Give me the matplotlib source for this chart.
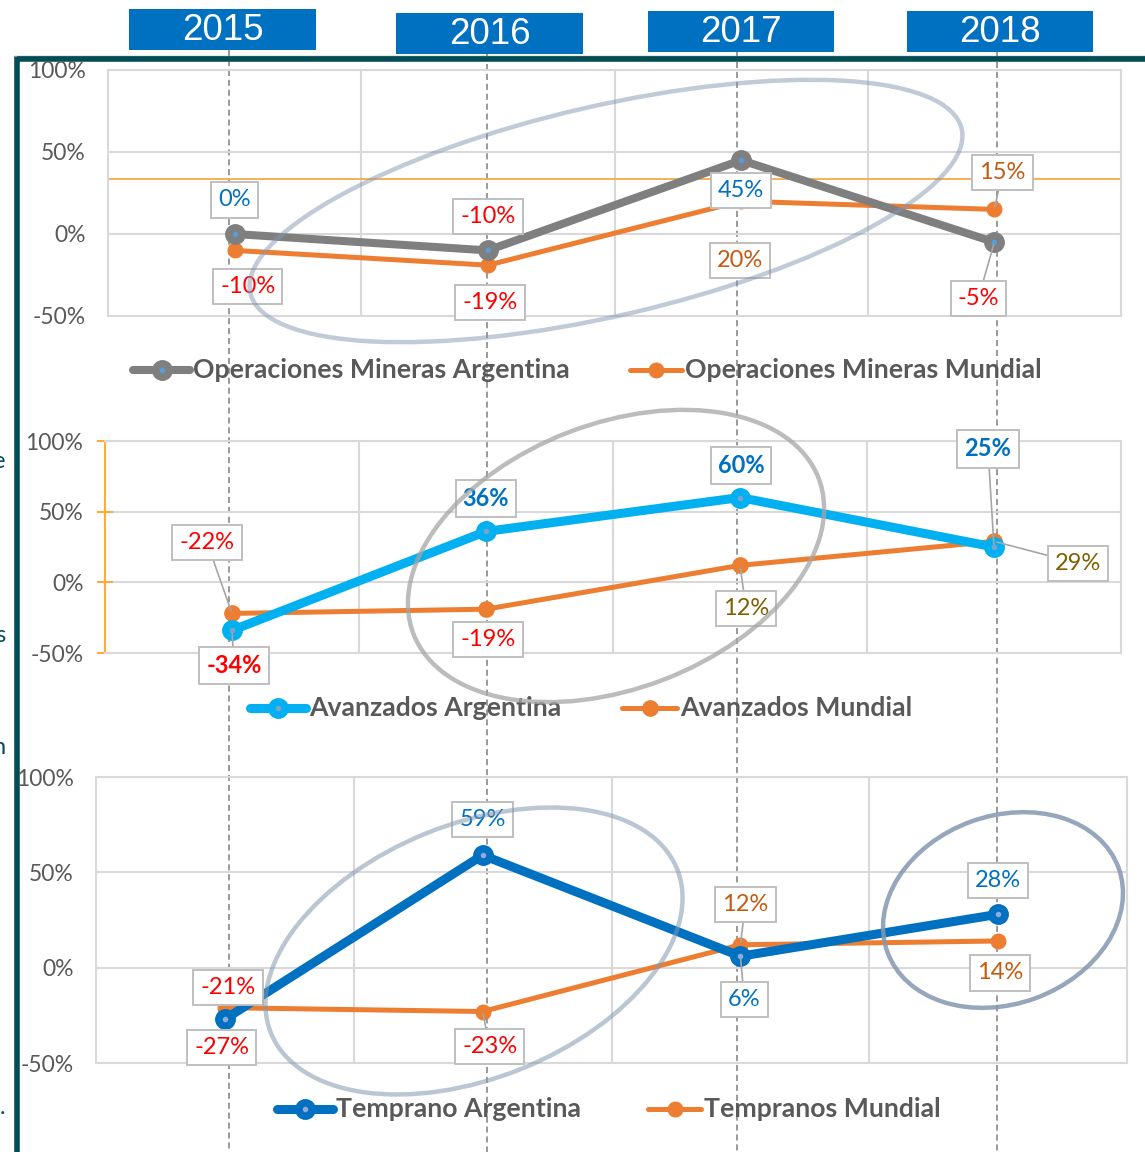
import numpy as np
import matplotlib.pyplot as plt
from matplotlib.patches import Ellipse, Rectangle

plt.rcParams['font.family'] = ['Lato', 'DejaVu Sans']

W, H = 1145, 1152

years = ["2015", "2016", "2017", "2018"]

# Operaciones mineras
oper_arg = [0.00, -0.10, 0.45, -0.05]
oper_mun = [-0.10, -0.19, 0.20, 0.15]
# Proyectos avanzados
avan_arg = [-0.34, 0.36, 0.60, 0.25]
avan_mun = [-0.22, -0.19, 0.12, 0.29]
# Proyectos tempranos
temp_arg = [-0.27, 0.59, 0.06, 0.28]
temp_mun = [-0.21, -0.23, 0.12, 0.14]

legend_names = [
    ("Operaciones Mineras Argentina", "Operaciones Mineras Mundial"),
    ("Avanzados Argentina", "Avanzados Mundial"),
    ("Temprano Argentina", "Tempranos Mundial"),
]

yticks = [-0.5, 0, 0.5, 1.0]
ytick_labels = ["-50%", "0%", "50%", "100%"]

BLUE = '#0070C0'
RED = '#FF0000'
ORANGE = '#ED7D31'
BROWN = '#C55A11'
OLIVE = '#7F6000'
TEAL = '#004D55'
GRID = '#D9D9D9'

fig = plt.figure(figsize=(W / 100, H / 100), dpi=100)

# overlay in pixel coordinates (y downwards)
bg = fig.add_axes([0, 0, 1, 1], zorder=0)
bg.set_xlim(0, W)
bg.set_ylim(H, 0)
bg.axis('off')

fg = fig.add_axes([0, 0, 1, 1], zorder=5)
fg.set_xlim(0, W)
fg.set_ylim(H, 0)
fg.axis('off')
fg.patch.set_alpha(0)


def px_axes(x0, y0, x1, y1):
    ax = fig.add_axes([x0 / W, 1 - y1 / H, (x1 - x0) / W, (y1 - y0) / H], zorder=2)
    ax.patch.set_alpha(0)
    return ax


def label(ax, x, y, text, color, dx, dy, bold=False, leader=False):
    ax.annotate(text, (x, y), xytext=(dx, dy), textcoords='offset pixels',
                ha='center', va='center', color=color, fontsize=17,
                fontweight='bold' if bold else 'normal',
                bbox=dict(boxstyle='square,pad=0.3', fc='white', ec='#BFBFBF', lw=1.4),
                arrowprops=dict(arrowstyle='-', color='#A6A6A6', lw=1.2,
                                shrinkA=0, shrinkB=2) if leader else None,
                zorder=6, annotation_clip=False)


charts = [
    dict(box=(108, 70, 1121, 316), arg=oper_arg, mun=oper_mun,
         arg_color='#7F7F7F', arg_pos=BLUE, mun_pos=BROWN, dot='#5B9BD5',
         arg_lw=5.8, arg_ms=14, mun_lw=3.6, mun_ms=10.5, bold=False, orange_axis=False,
         arg_off=[(0, 34, 0), (0, 34, 0), (0, -30, 0), (-16, -56, 1)],
         mun_off=[(13, -36, 0), (2, -37, 0), (-1, -59, 0), (8, 37, 1)],
         leg=(370, (133, 190), (630, 682))),
    dict(box=(105, 441, 1121, 653), arg=avan_arg, mun=avan_mun,
         arg_color='#00B0F0', arg_pos=BLUE, mun_pos=OLIVE, dot='#7F9FCF',
         arg_lw=6.5, arg_ms=14, mun_lw=3.6, mun_ms=11, bold=True, orange_axis=True,
         arg_off=[(2, -35, 1), (0, 33, 0), (1, 32, 0), (-6, 98, 1)],
         mun_off=[(-25, 71, 1), (2, -30, 0), (6, -43, 1), (84, -22, 1)],
         leg=(708, (250, 306), (622, 677))),
    dict(box=(96, 777, 1127, 1063), arg=temp_arg, mun=temp_mun,
         arg_color=BLUE, arg_pos=BLUE, mun_pos=BROWN, dot='#8FAADC',
         arg_lw=6.5, arg_ms=14, mun_lw=3.6, mun_ms=10.5, bold=False, orange_axis=False,
         arg_off=[(-3, -28, 0), (0, 36, 0), (4, -43, 1), (0, 34, 0)],
         mun_off=[(3, 20, 0), (7, -35, 1), (5, 40, 1), (2, -32, 0)],
         leg=(1109, (277, 333), (648, 701))),
]

x = np.arange(len(years))

for i, c in enumerate(charts):
    ax = px_axes(*c['box'])
    ax.set_xlim(-0.5, 3.5)
    ax.set_ylim(-0.5, 1.0)
    ax.set_yticks(yticks)
    ax.set_yticklabels(ytick_labels)
    ax.set_xticks([])
    ax.set_xticks([0.5, 1.5, 2.5], minor=True)
    ax.grid(True, which='minor', axis='x', color=GRID, lw=1.5)
    ax.grid(True, which='major', axis='y', color=GRID, lw=1.5)
    ax.tick_params(axis='x', which='both', length=0, labelbottom=False)
    for s in ax.spines.values():
        s.set_color(GRID)
        s.set_linewidth(1.5)
    if c['orange_axis']:
        ax.spines['left'].set_color('#FFA940')
        ax.tick_params(axis='y', direction='inout', length=11, width=1.5,
                       color='#FFA940', pad=10, labelsize=16.5, labelcolor='#595959')
    else:
        ax.tick_params(axis='y', length=0, pad=16, labelsize=16.5, labelcolor='#595959')
    ax.set_axisbelow(True)

    if i == 0:
        # linea de referencia naranja
        ax.axhline(0.335, color='#F8A94A', lw=1.3, zorder=2)

    ax.plot(x, c['mun'], color=ORANGE, lw=c['mun_lw'], marker='o', ms=c['mun_ms'],
            zorder=3, solid_capstyle='round')
    ax.plot(x, c['arg'], color=c['arg_color'], lw=c['arg_lw'], marker='o', ms=c['arg_ms'],
            zorder=4, solid_capstyle='round')
    ax.plot(x, c['arg'], ls='none', marker='o', ms=3, color=c['dot'], zorder=4.5)

    for xi, v, (dx, dy, ld) in zip(x, c['arg'], c['arg_off']):
        label(ax, xi, v, f"{v * 100:.0f}%", RED if v < 0 else c['arg_pos'], dx, dy,
              bold=c['bold'], leader=bool(ld))
    for xi, v, (dx, dy, ld) in zip(x, c['mun'], c['mun_off']):
        label(ax, xi, v, f"{v * 100:.0f}%", RED if v < 0 else c['mun_pos'], dx, dy,
              leader=bool(ld))

    # leyenda
    ly, (a0, a1), (b0, b1) = c['leg']
    name_a, name_b = legend_names[i]
    for (s0, s1), col, lw, ms, name, dot in [
        ((a0, a1), c['arg_color'], c['arg_lw'], c['arg_ms'], name_a, c['dot']),
        ((b0, b1), ORANGE, c['mun_lw'], c['mun_ms'], name_b, None),
    ]:
        bg.plot([s0, s1], [ly, ly], color=col, lw=lw, solid_capstyle='round', zorder=3)
        bg.plot([(s0 + s1) / 2], [ly], 'o', color=col, ms=ms, zorder=3)
        if dot:
            bg.plot([(s0 + s1) / 2], [ly], 'o', color=dot, ms=3, zorder=3.5)
        bg.text(s1 + 3, ly, name, ha='left', va='center', fontsize=19.2,
                fontweight='bold', color='#595959', zorder=3)

# encabezados de años
year_boxes = [(129, 9, 316, 50), (396, 13, 583, 54), (648, 11, 834, 52), (907, 11, 1093, 52)]
dash_x = [229, 487, 737, 997]
for yr, (x0, y0, x1, y1), dxl in zip(years, year_boxes, dash_x):
    bg.plot([dxl, dxl], [y1, H], color='#7F7F7F', lw=1.1, ls=(0, (4, 2.5)), zorder=1)
    bg.add_patch(Rectangle((x0, y0), x1 - x0, y1 - y0, fc=BLUE, ec='none', zorder=4))
    bg.text((x0 + x1) / 2, (y0 + y1) / 2 + 1, yr, ha='center', va='center', color='white',
            fontsize=26.5, family=['Liberation Sans', 'DejaVu Sans'], zorder=5)

# marco
bg.plot([14, W], [55.5, 55.5], color='#8C9A9C', lw=1, zorder=4)
bg.plot([16.5, W], [59, 59], color=TEAL, lw=4, zorder=4, solid_capstyle='butt')
bg.plot([16.5, 16.5], [57, H], color=TEAL, lw=4, zorder=4, solid_capstyle='butt')

# fragmentos de texto a la izquierda (cortados en el original)
for ch, yy in [("e", 462), ("s", 635), ("n", 748), (".", 1108)]:
    bg.text(5, yy, ch, ha='right', va='center', fontsize=17, color=TEAL)

# elipses
fg.add_patch(Ellipse((606, 211), 730, 210, angle=-13, fill=False, ec='#8497B0', lw=3.2, alpha=0.5))
fg.add_patch(Ellipse((616, 556), 434, 265, angle=-21, fill=False, ec='#A6A6A6', lw=3.2, alpha=0.75))
fg.add_patch(Ellipse((474, 951), 438, 254, angle=-22, fill=False, ec='#8497B0', lw=3.2, alpha=0.55))
fg.add_patch(Ellipse((1003, 910), 246, 188, angle=-20, fill=False, ec='#8497B0', lw=3.2, alpha=0.85))

fig.savefig('out.png', dpi=100)
